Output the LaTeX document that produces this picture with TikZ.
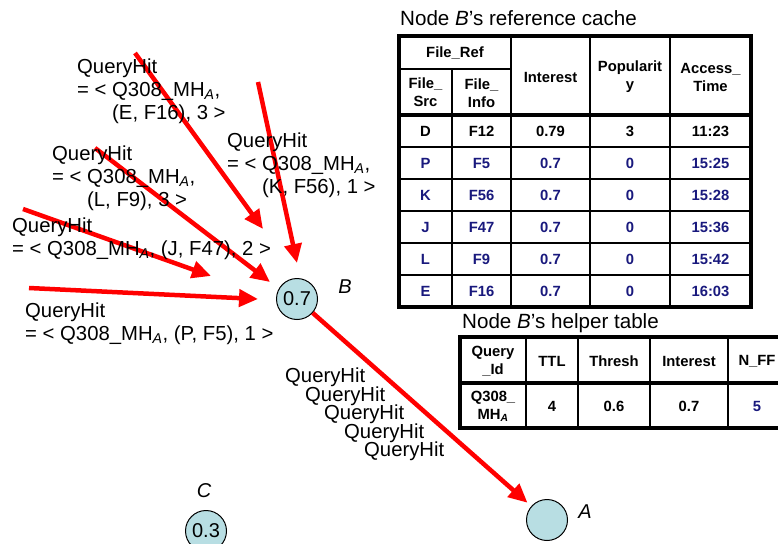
\documentclass[tikz,border=0pt]{standalone}
\usepackage{fontspec}
\setmainfont{Liberation Sans}
\usetikzlibrary{arrows.meta}
\definecolor{hitred}{RGB}{255,0,0}
\definecolor{nodefill}{RGB}{184,222,227}
\definecolor{navy}{RGB}{25,25,125}
\tikzset{
  hit/.style={draw=hitred, line width=4.5pt, -{Triangle[length=19pt,width=17pt]}},
  lbl/.style={inner sep=0pt, anchor=west, font=\fontsize{20.3}{23}\selectfont},
  ttl/.style={inner sep=0pt, anchor=west, font=\fontsize{20.6}{23}\selectfont},
  peer/.style={circle, draw=black, line width=1pt, fill=nodefill, minimum size=41pt, inner sep=0pt, font=\fontsize{20}{23}\selectfont},
  plbl/.style={inner sep=0pt, font=\itshape\fontsize{20}{23}\selectfont},
  cell/.style={inner sep=0pt, align=center, font=\bfseries\fontsize{14.8}{18}\selectfont},
  bcell/.style={cell, text=navy},
  thick line/.style={line width=3.2pt},
  thin line/.style={line width=2.2pt},
}
\newcommand{\subA}{\textsubscript{\itshape A}}
\begin{document}
\begin{tikzpicture}[x=1pt,y=-1pt]
\useasboundingbox (0,0) rectangle (778,543);

% ---------- peers ----------
\node[peer] (B) at (297,299) {0.7};
\node[peer] (A) at (547,520) {};
\node[peer] (C) at (206,531) {0.3};
\node[plbl] (Bl) at (345,287) {B};
\node[plbl] (Al) at (585,512) {A};
\node[plbl] (Cl) at (204,491) {C};

% ---------- incoming QueryHit arrows ----------
\coordinate (eS) at (135,53);   \coordinate (eT) at (263,229);
\coordinate (kS) at (258,82);   \coordinate (kT) at (297,263);
\coordinate (lS) at (95,148);   \coordinate (lT) at (270,282);
\coordinate (jS) at (23,209);   \coordinate (jT) at (211,276);
\coordinate (pS) at (29,288);   \coordinate (pT) at (258,299);
\draw[hit] (eS) -- (eT);
\draw[hit] (kS) -- (kT);
\draw[hit] (lS) -- (lT);
\draw[hit] (jS) -- (jT);
\draw[hit] (pS) -- (pT);
\draw[hit, shorten >=5pt] (B) -- (A);

% ---------- QueryHit labels ----------
\node[lbl] (e1) at (77,68)  {QueryHit};
\node[lbl] (e2) at (77,91)  {= < Q308\_MH\subA,};
\node[lbl] (e3) at (112,114) {(E, F16), 3 >};

\node[lbl] (k1) at (227,142) {QueryHit};
\node[lbl] (k2) at (227,165) {= < Q308\_MH\subA,};
\node[lbl] (k3) at (262,188) {(K, F56), 1 >};

\node[lbl] (l1) at (52,155) {QueryHit};
\node[lbl] (l2) at (52,178) {= < Q308\_MH\subA,};
\node[lbl] (l3) at (87,201) {(L, F9), 3 >};

\node[lbl] (j1) at (12,227) {QueryHit};
\node[lbl] (j2) at (12,250) {= < Q308\_MH\subA, (J, F47), 2 >};

\node[lbl] (p1) at (25,312) {QueryHit};
\node[lbl] (p2) at (25,335) {= < Q308\_MH\subA, (P, F5), 1 >};

\node[lbl] (q1) at (285,377) {QueryHit};
\node[lbl] (q2) at (305,396) {QueryHit};
\node[lbl] (q3) at (324,414) {QueryHit};
\node[lbl] (q4) at (344,433) {QueryHit};
\node[lbl] (q5) at (364,451) {QueryHit};

% ---------- reference cache ----------
\node[ttl] (rcT) at (400,18) {Node \textit{B}'s reference cache};
\draw[thin line] (399,69) -- (511,69);
\draw[thin line] (452,69) -- (452,307);
\foreach \x in {511,590,670} \draw[thin line] (\x,36) -- (\x,307);
\foreach \y in {147,179,211,243,275} \draw[thin line] (399,\y) -- (751,\y);
\draw[thick line] (399,115) -- (751,115);
\draw[thick line] (399,36) rectangle (751,307);

\node[cell] (h1) at (455,53) {File\_Ref};
\node[cell] (h2) at (425.5,92) {File\_\\Src};
\node[cell] (h3) at (481.5,93) {File\_\\Info};
\node[cell] (h4) at (550.5,77) {Interest};
\node[cell] (h5) at (630,77) {Popularit\\y};
\node[cell] (h6) at (710.5,77) {Access\_\\Time};

\node[cell] (r1a) at (425.5,131) {D};
\node[cell] (r1b) at (481.5,131) {F12};
\node[cell] (r1c) at (550.5,131) {0.79};
\node[cell] (r1d) at (630,131) {3};
\node[cell] (r1e) at (710.5,131) {11:23};

\node[bcell] (r2a) at (425.5,163) {P};
\node[bcell] (r2b) at (481.5,163) {F5};
\node[bcell] (r2c) at (550.5,163) {0.7};
\node[bcell] (r2d) at (630,163) {0};
\node[bcell] (r2e) at (710.5,163) {15:25};

\node[bcell] (r3a) at (425.5,195) {K};
\node[bcell] (r3b) at (481.5,195) {F56};
\node[bcell] (r3c) at (550.5,195) {0.7};
\node[bcell] (r3d) at (630,195) {0};
\node[bcell] (r3e) at (710.5,195) {15:28};

\node[bcell] (r4a) at (425.5,227) {J};
\node[bcell] (r4b) at (481.5,227) {F47};
\node[bcell] (r4c) at (550.5,227) {0.7};
\node[bcell] (r4d) at (630,227) {0};
\node[bcell] (r4e) at (710.5,227) {15:36};

\node[bcell] (r5a) at (425.5,259) {L};
\node[bcell] (r5b) at (481.5,259) {F9};
\node[bcell] (r5c) at (550.5,259) {0.7};
\node[bcell] (r5d) at (630,259) {0};
\node[bcell] (r5e) at (710.5,259) {15:42};

\node[bcell] (r6a) at (425.5,291) {E};
\node[bcell] (r6b) at (481.5,291) {F16};
\node[bcell] (r6c) at (550.5,291) {0.7};
\node[bcell] (r6d) at (630,291) {0};
\node[bcell] (r6e) at (710.5,291) {16:03};

% ---------- helper table ----------
\node[ttl] (htT) at (462,323) {Node \textit{B}'s helper table};
\foreach \x in {526,578,650,728} \draw[thin line] (\x,337) -- (\x,428);
\draw[thick line] (460,383) -- (790,383);
\draw[thick line] (460,337) rectangle (790,428);

\node[cell] (g1) at (493,361) {Query\\\_Id};
\node[cell] (g2) at (552,361) {TTL};
\node[cell] (g3) at (614,361) {Thresh};
\node[cell] (g4) at (689,361) {Interest};
\node[cell] (g5) at (757,361) {N\_FF};

\node[cell] (d1) at (493,406) {Q308\_\\MH\subA};
\node[cell] (d2) at (552,406) {4};
\node[cell] (d3) at (614,406) {0.6};
\node[cell] (d4) at (689,406) {0.7};
\node[bcell] (d5) at (757,406) {5};
\end{tikzpicture}
\end{document}
